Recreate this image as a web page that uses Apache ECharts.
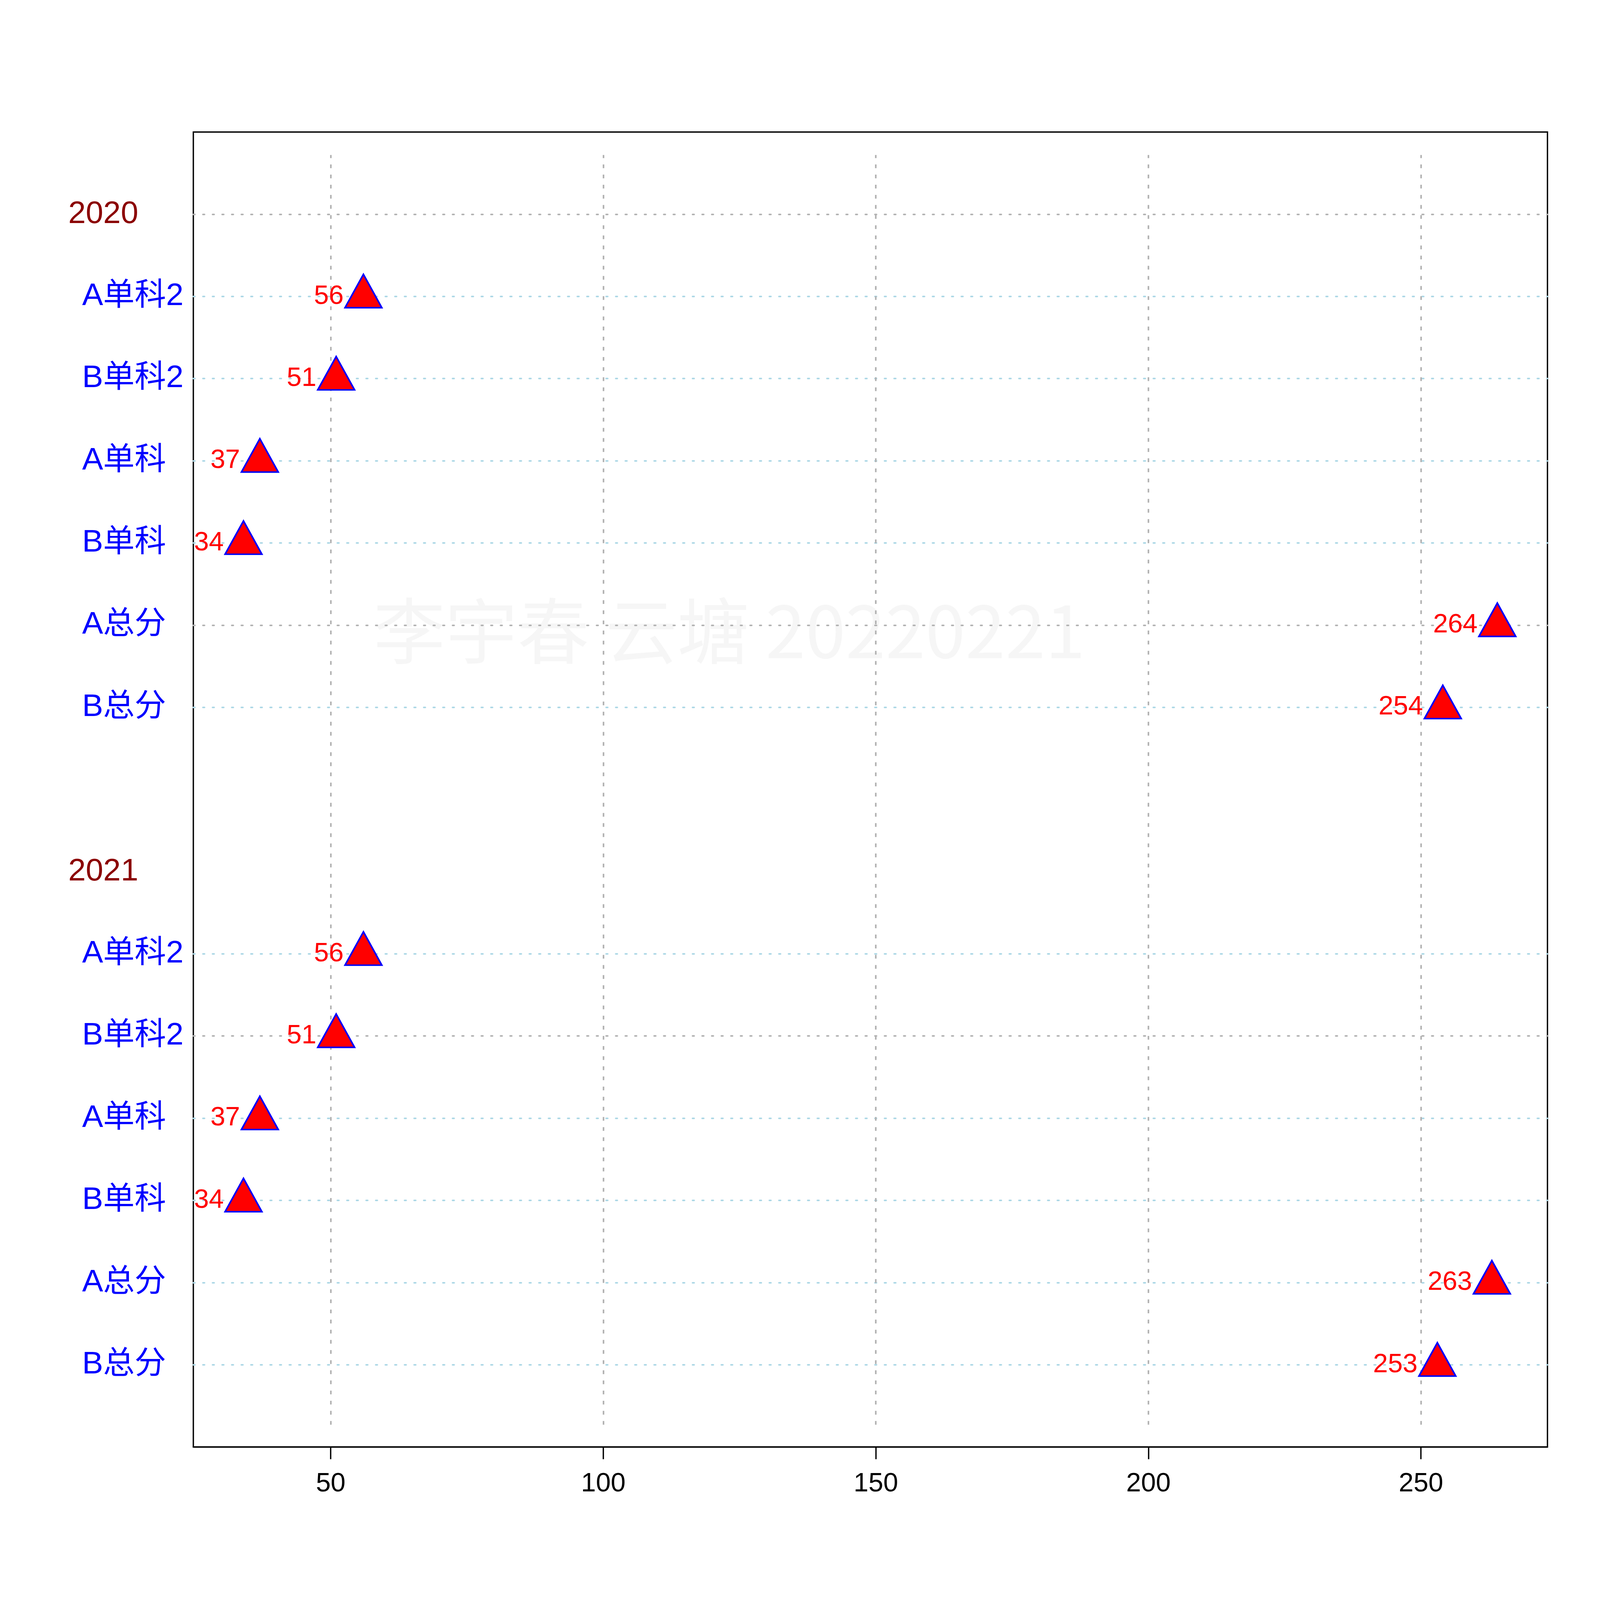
<!DOCTYPE html>
<html>
<head>
<meta charset="utf-8">
<script src="https://cdn.jsdelivr.net/npm/echarts@6/dist/echarts.min.js"></script>
<style>html,body{margin:0;padding:0;background:#fff;overflow:hidden}#chart{width:100vw;height:100vh}</style>
</head>
<body>
<div id="chart"></div>
<script>
const groups = ['2020', '2021'];
const rowNames = ['A单科2', 'B单科2', 'A单科', 'B单科', 'A总分', 'B总分'];
const values2020 = [56, 51, 37, 34, 264, 254];
const values2021 = [56, 51, 37, 34, 263, 253];
const xTicks = [50, 100, 150, 200, 250];

// row layout like R dotchart: bottom row is 1, each group gets a header row and a gap
const groupValues = [values2020, values2021];
let rowLabel = {}, groupLabel = {}, points = [];
groups.forEach(function (g, gi) {
  let top = (groups.length - gi) * (rowNames.length + 2) - 1;
  groupLabel[top] = g;
  rowNames.forEach(function (n, i) {
    let y = top - 1 - i;
    rowLabel[y] = n;
    points.push([groupValues[gi][i], y]);
  });
});
const grayRows = [5, 10, 15];
let splitColors = [];
for (let y = 0; y <= 16; y++) {
  if (grayRows.indexOf(y) >= 0) splitColors.push('#b3b3b3');
  else if (rowLabel[y]) splitColors.push('#add8e6');
  else splitColors.push('rgba(0,0,0,0)');
}

// sizes are written for a 6000px wide page and scaled to the real window
const s = window.innerWidth / 6000;
const font = 'Liberation Sans, Arial, sans-serif';
let option = {
  backgroundColor: '#fff',
  animation: false,
  graphic: [{
    type: 'text', left: 1400 * s, top: 2230 * s, z: 0,
    style: { text: '李宇春 云塘 20220221', font: (270 * s) + 'px "Noto Sans CJK SC"', fill: '#f6f6f6' }
  }],
  grid: { left: 725 * s, right: 197 * s, top: 495 * s, bottom: 574 * s, show: true, borderColor: '#000', borderWidth: 5 * s, backgroundColor: 'transparent' },
  xAxis: {
    type: 'value', min: 24.8, max: 273.2,
    axisLine: { show: true, onZero: false, lineStyle: { color: '#000', width: 5 * s } },
    axisTick: { show: true, length: 46 * s, lineStyle: { color: '#000', width: 5 * s }, customValues: xTicks },
    axisLabel: { color: '#000', fontSize: 100 * s, fontFamily: font, margin: 90 * s, customValues: xTicks },
    splitLine: { show: false }
  },
  yAxis: [{
    type: 'value', min: 0, max: 16, interval: 1,
    axisLine: { show: false }, axisTick: { show: false },
    axisLabel: {
      align: 'left', margin: 417 * s, color: '#0000ff', fontSize: 118 * s, fontFamily: '"Liberation Sans", "Noto Sans CJK SC"',
      formatter: function (v) { return rowLabel[v] || ''; }
    },
    splitLine: { show: true, lineStyle: { color: splitColors, width: 6 * s, type: [6 * s, 30 * s], cap: 'round' } }
  }, {
    type: 'value', min: 0, max: 16, interval: 1, position: 'left',
    axisLine: { show: false }, axisTick: { show: false },
    axisLabel: {
      align: 'left', margin: 469 * s, color: '#8b0000', fontSize: 118 * s, fontFamily: font,
      formatter: function (v) { return groupLabel[v] || ''; }
    },
    splitLine: { show: false }
  }],
  series: [{
    type: 'scatter', data: points, z: 5,
    symbol: 'triangle', symbolSize: [138 * s, 125 * s], symbolOffset: [0, -20 * s],
    itemStyle: { color: '#ff0000', borderColor: '#0000ff', borderWidth: 6 * s, opacity: 1 },
    label: {
      show: true, position: 'left', distance: 2 * s, offset: [0, 20 * s], color: '#ff0000', fontSize: 100 * s, fontFamily: font,
      formatter: function (p) { return p.value[0]; }
    },
    markLine: {
      silent: true, symbol: 'none', label: { show: false }, z: 1,
      lineStyle: { color: '#b3b3b3', width: 6 * s, type: [14 * s, 24 * s] },
      data: xTicks.map(function (t) { return [{ coord: [t, 0.27] }, { coord: [t, 15.72] }]; })
    }
  }]
};
echarts.init(document.getElementById('chart')).setOption(option);
</script>
</body>
</html>
